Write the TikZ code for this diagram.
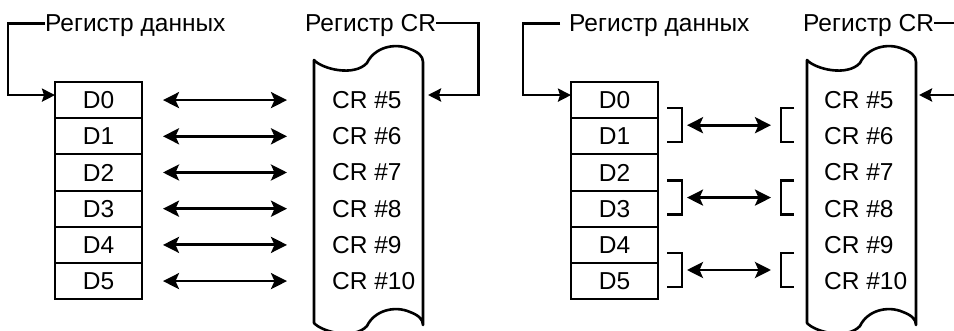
\documentclass[tikz,border=0pt]{standalone}
\usepackage{fontspec}
\setmainfont{Liberation Sans}
\usetikzlibrary{arrows.meta,positioning,calc}
\tikzset{
  reg/.style ={draw,line width=2pt,minimum width=87pt,minimum height=36.2pt,
               inner sep=0pt,outer sep=0pt},
  crt/.style ={inner sep=0pt},
  lbl/.style ={inner sep=0pt,anchor=base west},
  ar/.style  ={-{Stealth[length=13pt,width=13pt,inset=2pt]},line width=2.8pt},
  dar/.style ={{Stealth[length=16pt,width=16pt,inset=3.5pt]}-{Stealth[length=16pt,width=16pt,inset=3.5pt]},
               line width=2.8pt},
  brk/.style ={line width=2.6pt},
  scr/.style ={line width=2.6pt,line join=round},
}
\newcommand{\scrl}[1]{%
  \draw[scr,shift={(#1,0)}] (0,60) .. controls (8,69) and (40,77) .. (53,63)
    .. controls (60,48) and (80,42) .. (96,49) .. controls (104,52) and (109,56) .. (109,62)
    -- (109,325) .. controls (109,319) and (104,315) .. (96,312)
    .. controls (80,305) and (60,311) .. (53,326) .. controls (40,340) and (8,332) .. (0,323) -- cycle;}

\begin{document}
\begin{tikzpicture}[x=1pt,y=-1pt,every node/.style={font=\fontsize{24.5}{28}\selectfont}]
\useasboundingbox (0,0) rectangle (954,331);
% left: one register per CR
\node[reg] (aD0) at (98.5,100.1) {D0};
\node[reg,below=0pt of aD0] (aD1) {D1};
\node[reg,below=0pt of aD1] (aD2) {D2};
\node[reg,below=0pt of aD2] (aD3) {D3};
\node[reg,below=0pt of aD3] (aD4) {D4};
\node[reg,below=0pt of aD4] (aD5) {D5};
\node[crt,right=190pt of aD0] (a5) {CR \#5};
\node[crt,right=190pt of aD1] (a6) {CR \#6};
\node[crt,right=190pt of aD2] (a7) {CR \#7};
\node[crt,right=190pt of aD3] (a8) {CR \#8};
\node[crt,right=190pt of aD4] (a9) {CR \#9};
\node[crt,right=190pt of aD5] (a10) {CR \#10};
\node[lbl] (aRD) at (45,32) {Регистр данных};
\node[lbl] (aRC) at (305,32) {Регистр CR};
\scrl{314}
\coordinate (aIn) at (428,95);
\draw[ar] ([yshift=3pt]aRD.west) -- ++(-37,0) |- ([yshift=5pt]aD0.west);
\draw[ar] ([yshift=3pt]aRC.east) -- ++(42,0) |- (aIn);
\draw[dar,shorten <=21pt,shorten >=45pt] (aD0.east) -- (aD0.east -| a5.west);
\draw[dar,shorten <=21pt,shorten >=45pt] (aD1.east) -- (aD1.east -| a6.west);
\draw[dar,shorten <=21pt,shorten >=45pt] (aD2.east) -- (aD2.east -| a7.west);
\draw[dar,shorten <=21pt,shorten >=45pt] (aD3.east) -- (aD3.east -| a8.west);
\draw[dar,shorten <=21pt,shorten >=45pt] (aD4.east) -- (aD4.east -| a9.west);
\draw[dar,shorten <=21pt,shorten >=45pt] (aD5.east) -- (aD5.east -| a10.west);
% right: registers in pairs
\node[reg] (bD0) at (614.5,100.1) {D0};
\node[reg,below=0pt of bD0] (bD1) {D1};
\node[reg,below=0pt of bD1] (bD2) {D2};
\node[reg,below=0pt of bD2] (bD3) {D3};
\node[reg,below=0pt of bD3] (bD4) {D4};
\node[reg,below=0pt of bD4] (bD5) {D5};
\node[crt,right=166pt of bD0] (b5) {CR \#5};
\node[crt,right=166pt of bD1] (b6) {CR \#6};
\node[crt,right=166pt of bD2] (b7) {CR \#7};
\node[crt,right=166pt of bD3] (b8) {CR \#8};
\node[crt,right=166pt of bD4] (b9) {CR \#9};
\node[crt,right=166pt of bD5] (b10) {CR \#10};
\node[lbl] (bRD) at (569,32) {Регистр данных};
\node[lbl] (bRC) at (803,32) {Регистр CR};
\scrl{807}
\coordinate (bIn) at (919,95);
\draw[ar] ([xshift=-9pt,yshift=3pt]bRD.west) -- ++(-37,0) |- ([yshift=5pt]bD0.west);
\draw[ar] ([yshift=3pt]bRC.east) -- ++(42,0) |- (bIn);
\coordinate (p1) at ($(bD0.south east)+(24,7)$); \coordinate (q1) at ($(bD0.south east)+(123,7)$);
\coordinate (p2) at ($(bD2.south east)+(24,7)$); \coordinate (q2) at ($(bD2.south east)+(123,7)$);
\coordinate (p3) at ($(bD4.south east)+(24,7)$); \coordinate (q3) at ($(bD4.south east)+(123,7)$);
\draw[brk] (p1) ++(-15,-17) -| ++(15,34) -- ++(-15,0); \draw[brk] (q1) ++(13,-17) -| ++(-13,34) -- ++(13,0);
\draw[brk] (p2) ++(-15,-17) -| ++(15,34) -- ++(-15,0); \draw[brk] (q2) ++(13,-17) -| ++(-13,34) -- ++(13,0);
\draw[brk] (p3) ++(-15,-17) -| ++(15,34) -- ++(-15,0); \draw[brk] (q3) ++(13,-17) -| ++(-13,34) -- ++(13,0);
\draw[dar,shorten <=5pt,shorten >=10pt] (p1) -- (q1);
\draw[dar,shorten <=5pt,shorten >=10pt] (p2) -- (q2);
\draw[dar,shorten <=5pt,shorten >=10pt] (p3) -- (q3);
\end{tikzpicture}
\end{document}
